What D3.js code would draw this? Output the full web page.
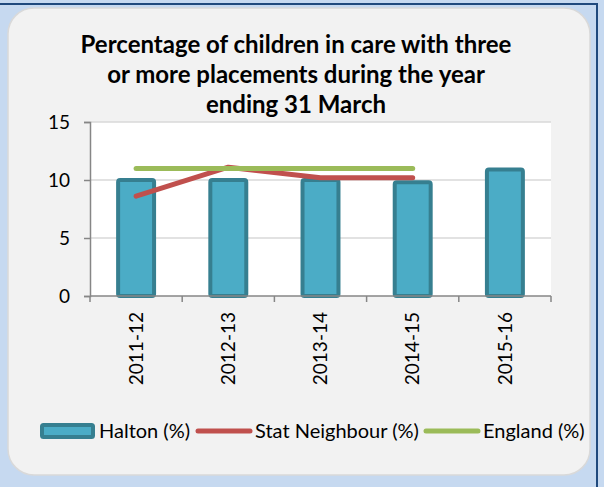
<!DOCTYPE html>
<html>
<head>
<meta charset="utf-8">
<script src="https://cdn.jsdelivr.net/npm/d3@7"></script>
<style>
  html, body { margin: 0; padding: 0; background: #c6d9f0; }
  svg { display: block; }
</style>
</head>
<body>
<svg id="chart" width="604" height="487"></svg>
<script>
// Chart data
const categories = ["2011-12", "2012-13", "2013-14", "2014-15", "2015-16"];
const halton = [10.0, 10.0, 10.0, 9.8, 10.9];
const statNeighbour = [8.6, 11.1, 10.2, 10.2, null];
const england = [11.0, 11.0, 11.0, 11.0, null];
const yTicks = [0, 5, 10, 15];
const titleLines = [
  "Percentage of children in care with three",
  "or more placements during the year",
  "ending 31 March"
];
const seriesNames = ["Halton (%)", "Stat Neighbour (%)", "England (%)"];

const W = 604, H = 487;
const FONT = "Lato, 'Open Sans', sans-serif";
const colors = {
  barFill: "#4bacc6", barStroke: "#367f90",
  stat: "#c0504d", england: "#9bbb59",
  axis: "#868686", grid: "#d9d9d9"
};

const svg = d3.select("#chart");

// Page frame: border lines and rounded panel
svg.append("rect").attr("x", 0).attr("y", 0).attr("width", W).attr("height", H).attr("fill", "#c6d9f0");
svg.append("line").attr("x1", 0).attr("x2", 598).attr("y1", 4).attr("y2", 4)
  .attr("stroke", "#1f497d").attr("stroke-width", 2);
svg.append("line").attr("x1", 597).attr("x2", 597).attr("y1", 3).attr("y2", H)
  .attr("stroke", "#1f497d").attr("stroke-width", 2);
svg.append("rect").attr("x", 8).attr("y", 8).attr("width", 582).attr("height", 467)
  .attr("rx", 26).attr("ry", 26)
  .attr("fill", "#f2f2f2").attr("stroke", "#d9d9d9").attr("stroke-width", 1.5);

// Title
const title = svg.append("text")
  .attr("text-anchor", "middle")
  .attr("font-family", FONT).attr("font-weight", "bold").attr("font-size", 24)
  .attr("fill", "#000");
titleLines.forEach((t, i) => {
  title.append("tspan").attr("x", 296).attr("y", 53 + i * 30).text(t);
});

// Plot area
const plot = { left: 90, right: 551, top: 122, bottom: 296 };
const x = d3.scaleBand().domain(categories).range([plot.left, plot.right]).padding(0);
const y = d3.scaleLinear().domain([0, 15]).range([plot.bottom, plot.top]);

svg.append("rect")
  .attr("x", plot.left).attr("y", plot.top)
  .attr("width", plot.right - plot.left).attr("height", plot.bottom - plot.top)
  .attr("fill", "#ffffff");

// Gridlines
svg.append("g").selectAll("line").data(yTicks.filter(d => d > 0)).join("line")
  .attr("x1", plot.left).attr("x2", plot.right)
  .attr("y1", d => y(d)).attr("y2", d => y(d))
  .attr("stroke", colors.grid).attr("stroke-width", 1.5);

// Halton bars
const barW = x.bandwidth() * 0.39;
svg.append("g").selectAll("rect").data(categories).join("rect")
  .attr("x", d => x(d) + x.bandwidth() / 2 - barW / 2)
  .attr("y", (d, i) => y(halton[i]))
  .attr("width", barW)
  .attr("height", (d, i) => y(0) - y(halton[i]))
  .attr("rx", 2)
  .attr("fill", colors.barFill)
  .attr("stroke", colors.barStroke).attr("stroke-width", 4);

// Y axis
const yAxis = svg.append("g")
  .attr("transform", `translate(${plot.left},0)`)
  .call(d3.axisLeft(y).tickValues(yTicks).tickSize(6).tickPadding(14).tickFormat(d3.format("d")));
yAxis.select(".domain").attr("stroke", colors.axis).attr("stroke-width", 1.5);
yAxis.selectAll(".tick line").attr("stroke", colors.axis).attr("stroke-width", 1.5);
yAxis.selectAll(".tick text").attr("font-family", FONT).attr("font-size", 19).attr("fill", "#000");

// X axis: baseline plus ticks on category boundaries
const xAxis = svg.append("g");
xAxis.append("line")
  .attr("x1", plot.left).attr("x2", plot.right)
  .attr("y1", y(0)).attr("y2", y(0))
  .attr("stroke", colors.axis).attr("stroke-width", 1.5);
const bounds = categories.map(c => x(c)).concat([x(categories[categories.length - 1]) + x.bandwidth()]);
xAxis.selectAll("line.tick").data(bounds).join("line").attr("class", "tick")
  .attr("x1", d => d).attr("x2", d => d)
  .attr("y1", y(0)).attr("y2", y(0) + 6)
  .attr("stroke", colors.axis).attr("stroke-width", 1.5);
xAxis.selectAll("text").data(categories).join("text")
  .attr("transform", d => `translate(${x(d) + x.bandwidth() / 2},${y(0) + 16}) rotate(-90)`)
  .attr("text-anchor", "end")
  .attr("dy", "0.35em")
  .attr("font-family", FONT).attr("font-size", 19).attr("fill", "#000")
  .text(d => d);

// Lines
const lineGen = d3.line()
  .defined(d => d.v != null)
  .x(d => x(d.c) + x.bandwidth() / 2)
  .y(d => y(d.v));
const toPts = arr => categories.map((c, i) => ({ c, v: arr[i] }));

svg.append("path").datum(toPts(statNeighbour))
  .attr("d", lineGen).attr("fill", "none")
  .attr("stroke", colors.stat).attr("stroke-width", 5)
  .attr("stroke-linecap", "round").attr("stroke-linejoin", "round");
svg.append("path").datum(toPts(england))
  .attr("d", lineGen).attr("fill", "none")
  .attr("stroke", colors.england).attr("stroke-width", 5)
  .attr("stroke-linecap", "round").attr("stroke-linejoin", "round");

// Legend
const legend = svg.append("g").attr("font-family", FONT).attr("font-size", 20);
const ly = 431;
legend.append("rect").attr("x", 42).attr("y", ly - 6).attr("width", 51).attr("height", 12)
  .attr("rx", 1.5)
  .attr("fill", colors.barFill).attr("stroke", colors.barStroke).attr("stroke-width", 4);
legend.append("text").attr("x", 99).attr("y", ly).attr("dy", "0.35em").text(seriesNames[0]);
legend.append("line").attr("x1", 198).attr("x2", 250).attr("y1", ly).attr("y2", ly)
  .attr("stroke", colors.stat).attr("stroke-width", 5).attr("stroke-linecap", "round");
legend.append("text").attr("x", 255).attr("y", ly).attr("dy", "0.35em").text(seriesNames[1]);
legend.append("line").attr("x1", 426).attr("x2", 478).attr("y1", ly).attr("y2", ly)
  .attr("stroke", colors.england).attr("stroke-width", 5).attr("stroke-linecap", "round");
legend.append("text").attr("x", 483).attr("y", ly).attr("dy", "0.35em").text(seriesNames[2]);
</script>
</body>
</html>
